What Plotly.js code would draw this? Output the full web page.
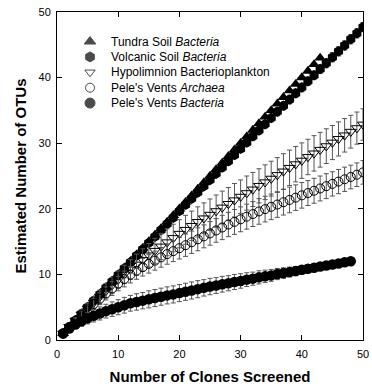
<!DOCTYPE html>
<html><head><meta charset="utf-8">
<script src="https://cdn.plot.ly/plotly-3.0.1.min.js"></script>
<style>html,body{margin:0;padding:0;background:#fff}</style>
</head><body>
<div id="chart" style="width:372px;height:390px"></div>
<script>
const legendLabels = ["Tundra Soil <i>Bacteria</i>", "Volcanic Soil <i>Bacteria</i>", "Hypolimnion Bacterioplankton", "Pele's Vents <i>Archaea</i>", "Pele's Vents <i>Bacteria</i>"];

const tundraX = [1,2,3,4,5,6,7,8,9,10,11,12,13,14,15,16,17,18,19,20,21,22,23,24,25,26,27,28,29,30,31,32,33,34,35,36,37,38,39,40,41,42,43];
const tundraY = [1,2,3,4,5,6,7,8,9,10,11,12,13,14,15,16,17,18,19,20,21,22,23,24,25,26,27,28,29,30,31,32,33,34,35,36,37,38,39,40,41,42,43];

const volcanicX = [1,2,3,4,5,6,7,8,9,10,11,12,13,14,15,16,17,18,19,20,21,22,23,24,25,26,27,28,29,30,31,32,33,34,35,36,37,38,39,40,41,42,43,44,45,46,47,48,49,50];
const volcanicY = [1,2,3,4,5,6,6.95,7.95,8.9,9.9,10.9,11.85,12.85,13.8,14.8,15.75,16.75,17.7,18.65,19.65,20.6,21.55,22.5,23.45,24.4,25.35,26.3,27.25,28.2,29.15,30.1,31.05,31.95,32.9,33.85,34.8,35.7,36.65,37.6,38.5,39.45,40.35,41.3,42.2,43.1,44.0,44.9,45.85,46.75,47.7];
const volcanicErr = [0,0.1,0.15,0.2,0.2,0.25,0.25,0.3,0.3,0.3,0.35,0.35,0.35,0.4,0.4,0.4,0.4,0.45,0.45,0.45,0.45,0.5,0.5,0.5,0.5,0.5,0.55,0.55,0.55,0.55,0.55,0.6,0.6,0.6,0.6,0.6,0.6,0.65,0.65,0.65,0.65,0.65,0.65,0.7,0.7,0.7,0.7,0.7,0.7,0.7];

const hypoX = [1,2,3,4,5,6,7,8,9,10,11,12,13,14,15,16,17,18,19,20,21,22,23,24,25,26,27,28,29,30,31,32,33,34,35,36,37,38,39,40,41,42,43,44,45,46,47,48,49,50];
const hypoY = [1,2,2.95,3.9,4.8,5.7,6.6,7.5,8.35,9.2,10.0,10.75,11.5,12.2,12.9,13.6,14.25,14.9,15.55,16.2,16.8,17.4,18.0,18.55,19.1,19.65,20.2,20.75,21.3,21.85,22.4,22.95,23.5,24.05,24.6,25.15,25.7,26.25,26.8,27.35,27.9,28.45,29.0,29.55,30.1,30.65,31.2,31.75,32.3,32.85];
const hypoErr = [0,0.3,0.5,0.7,0.8,0.9,1.0,1.1,1.2,1.3,1.4,1.5,1.6,1.7,1.8,1.9,2.0,2.05,2.1,2.15,2.2,2.25,2.3,2.35,2.4,2.45,2.5,2.5,2.55,2.55,2.6,2.6,2.6,2.65,2.65,2.65,2.7,2.7,2.7,2.7,2.7,2.7,2.65,2.65,2.6,2.6,2.55,2.5,2.45,2.4];

const archaeaX = [1,2,3,4,5,6,7,8,9,10,11,12,13,14,15,16,17,18,19,20,21,22,23,24,25,26,27,28,29,30,31,32,33,34,35,36,37,38,39,40,41,42,43,44,45,46,47,48,49,50];
const archaeaY = [1,2,2.9,3.8,4.65,5.5,6.3,7.1,7.85,8.6,9.3,9.95,10.55,11.1,11.6,12.1,12.6,13.1,13.55,14.0,14.45,14.9,15.35,15.8,16.25,16.7,17.15,17.6,18.0,18.4,18.8,19.2,19.6,19.95,20.3,20.65,21.0,21.35,21.7,22.05,22.4,22.75,23.1,23.45,23.8,24.15,24.5,24.85,25.2,25.55];
const archaeaErr = [0,0.3,0.45,0.6,0.7,0.8,0.9,1.0,1.05,1.1,1.2,1.25,1.3,1.35,1.4,1.45,1.5,1.55,1.6,1.65,1.7,1.7,1.75,1.75,1.8,1.8,1.85,1.85,1.9,1.9,1.9,1.9,1.95,1.95,1.95,1.95,1.95,1.95,1.95,1.95,1.9,1.9,1.9,1.9,1.85,1.85,1.85,1.8,1.8,1.8];

const peleBacX = [1,2,3,4,5,6,7,8,9,10,11,12,13,14,15,16,17,18,19,20,21,22,23,24,25,26,27,28,29,30,31,32,33,34,35,36,37,38,39,40,41,42,43,44,45,46,47,48];
const peleBacY = [1.0,1.75,2.35,2.85,3.3,3.7,4.05,4.4,4.7,5.0,5.3,5.6,5.8,6.0,6.2,6.4,6.6,6.8,6.95,7.15,7.35,7.55,7.75,7.95,8.15,8.3,8.5,8.65,8.85,9.0,9.2,9.35,9.55,9.7,9.85,10.05,10.2,10.35,10.5,10.7,10.85,11.0,11.2,11.35,11.5,11.65,11.85,12.0];
const peleBacErr = [0,0.4,0.6,0.75,0.85,0.95,1.0,1.05,1.1,1.15,1.2,1.2,1.25,1.25,1.3,1.3,1.3,1.3,1.3,1.3,1.3,1.3,1.3,1.25,1.25,1.2,1.2,1.15,1.15,1.1,1.05,1.0,1.0,0.95,0.9,0.85,0.8,0.75,0.7,0.65,0.6,0.55,0.5,0.45,0.4,0.3,0.2,0];

const xTicks = [0,10,20,30,40,50];
const yTicks = [0,10,20,30,40,50];

const FONT = "Arial, 'Liberation Sans', Helvetica, sans-serif";
const errStyle = (arr) => ({type:'data', array:arr, visible:true, color:'#555', thickness:1, width:2.5});

const traces = [
  {x:tundraX, y:tundraY, mode:'markers', name:legendLabels[0],
   marker:{symbol:'triangle-up', size:10.5, color:'#000'}},
  {x:volcanicX, y:volcanicY, mode:'markers', name:legendLabels[1], error_y:errStyle(volcanicErr),
   marker:{symbol:'hexagon', size:10.5, color:'#000'}},
  {x:hypoX, y:hypoY, mode:'markers', name:legendLabels[2], error_y:errStyle(hypoErr),
   marker:{symbol:'triangle-down-open', size:9.5, color:'#000', line:{width:1}}},
  {x:archaeaX, y:archaeaY, mode:'markers', name:legendLabels[3], error_y:errStyle(archaeaErr),
   marker:{symbol:'circle-open', size:9, color:'#000', line:{width:1}}},
  {x:peleBacX, y:peleBacY, mode:'markers', name:legendLabels[4], error_y:errStyle(peleBacErr),
   marker:{symbol:'circle', size:10.5, color:'#000'}}
];

// manual legend drawn on a hidden overlay axis measured in pixels
const legMarkX = 90, legTextX = 109, legTop = 41.5, legStep = 15.4;
const legSymbols = ['triangle-up','hexagon','triangle-down-open','circle-open','circle'];
const legY = legendLabels.map((_, i) => legTop + i * legStep);
traces.push({
  x: legendLabels.map(() => legMarkX), y: legY, xaxis:'x2', yaxis:'y2', mode:'markers',
  hoverinfo:'skip', showlegend:false,
  marker:{symbol:legSymbols, size:[10,10,9,9,10], color:'#000', line:{width:1, color:'#000'}}
});
const annotations = legendLabels.map((t, i) => ({
  text:t, x:legTextX, y:legY[i], xref:'x2', yref:'y2', xanchor:'left', yanchor:'middle',
  showarrow:false, font:{family:FONT, size:12, color:'#000'}
}));

const axisCommon = {
  range:[0,50], ticks:'inside', ticklen:5, tickwidth:1, tickcolor:'#000',
  showline:true, linecolor:'#000', linewidth:1, mirror:'ticks', showgrid:false, zeroline:false,
  tickfont:{family:FONT, size:11, color:'#000'}, fixedrange:true
};

const layout = {
  width:372, height:390, margin:{l:57, r:9, t:12, b:50},
  paper_bgcolor:'#fff', plot_bgcolor:'#fff', showlegend:false,
  font:{family:FONT, color:'#000'},
  xaxis:Object.assign({}, axisCommon, {tickvals:xTicks, ticktext:xTicks.map(String), ticklabelstandoff:4,
    title:{text:'<b>Number of Clones Screened</b>', font:{family:FONT, size:15, color:'#000'}, standoff:12}}),
  yaxis:Object.assign({}, axisCommon, {tickvals:yTicks, ticktext:yTicks.map(String), ticklabelstandoff:3,
    title:{text:'<b>Estimated Number of OTUs</b>', font:{family:FONT, size:15, color:'#000'}, standoff:8}}),
  xaxis2:{overlaying:'x', anchor:'y2', range:[57,363], visible:false, fixedrange:true},
  yaxis2:{overlaying:'y', anchor:'x2', range:[340,12], visible:false, fixedrange:true},
  annotations:annotations
};

Plotly.newPlot('chart', traces, layout, {staticPlot:true, displayModeBar:false});
</script>
</body></html>
